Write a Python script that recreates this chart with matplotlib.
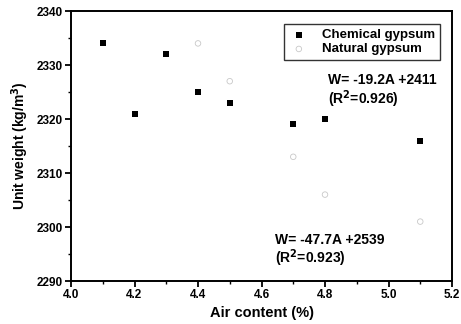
import matplotlib
matplotlib.use("Agg")
import matplotlib.pyplot as plt
from matplotlib.ticker import MultipleLocator

chem_air = [4.1, 4.2, 4.3, 4.4, 4.5, 4.7, 4.8, 5.1]
chem_weight = [2334, 2321, 2332, 2325, 2323, 2319, 2320, 2316]
nat_air = [4.4, 4.5, 4.7, 4.8, 5.1]
nat_weight = [2334, 2327, 2313, 2306, 2301]
xticks = [4.0, 4.2, 4.4, 4.6, 4.8, 5.0, 5.2]
yticks = [2290, 2300, 2310, 2320, 2330, 2340]

plt.rcParams['font.family'] = ['Liberation Sans', 'DejaVu Sans']
plt.rcParams['font.weight'] = 'bold'

fig = plt.figure(figsize=(4.61, 3.24), dpi=100)
ax = fig.add_axes([71/461, 1-281/324, (452-71)/461, (281-11)/324])

ax.scatter(chem_air, chem_weight, marker='s', s=24, color='black', linewidths=0,
           label='Chemical gypsum', zorder=3)
ax.scatter(nat_air, nat_weight, marker='o', s=16, facecolors='none', edgecolors='#c8c8c8',
           linewidths=0.6, label='Natural gypsum', zorder=3)

ax.set_xlim(4.0, 5.2)
ax.set_ylim(2290, 2340)
ax.set_xticks(xticks)
ax.set_yticks(yticks)
ax.xaxis.set_minor_locator(MultipleLocator(0.1))
ax.yaxis.set_minor_locator(MultipleLocator(5))
ax.set_xticklabels([f"{v:.1f}" for v in xticks])
ax.set_yticklabels([str(v) for v in yticks])
ax.tick_params(which='major', direction='out', length=4, width=1.3, labelsize=8.5, pad=2)
ax.tick_params(which='minor', direction='out', length=2, width=1.0)
for lab in ax.get_xticklabels() + ax.get_yticklabels():
    lab.set_fontweight('bold')
for sp in ax.spines.values():
    sp.set_linewidth(1.4)

ax.set_xlabel('Air content (%)', fontsize=10.5, fontweight='bold', labelpad=3)
ax.set_ylabel('Unit weight (kg/m$^\\mathbf{3}$)', fontsize=10, fontweight='bold', labelpad=4)

fs = 10
ax.text(4.81, 2327.2, 'W= -19.2A +2411', fontsize=fs, fontweight='bold', va='center', ha='left')
ax.text(4.81, 2323.6, '(R$^\\mathbf{2}$=0.926)', fontsize=fs, fontweight='bold', va='center', ha='left')
ax.text(4.643, 2297.6, 'W= -47.7A +2539', fontsize=fs, fontweight='bold', va='center', ha='left')
ax.text(4.643, 2294.3, '(R$^\\mathbf{2}$=0.923)', fontsize=fs, fontweight='bold', va='center', ha='left')

leg = ax.legend(loc='upper right', bbox_to_anchor=(0.985, 0.975), fontsize=9.5, frameon=True,
                fancybox=False, edgecolor='black', handletextpad=1.0, borderpad=0.35,
                labelspacing=0.15, handlelength=1.5)
leg.get_frame().set_linewidth(1.0)
for t in leg.get_texts():
    t.set_fontweight('bold')

fig.savefig('out.png', dpi=100)
